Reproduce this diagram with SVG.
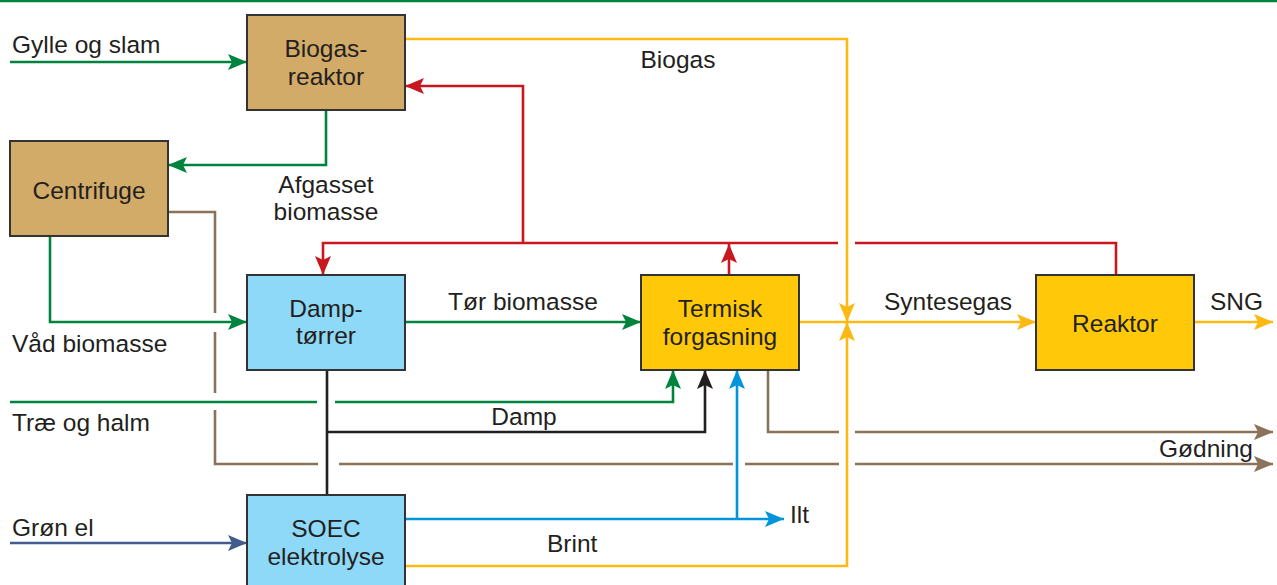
<svg xmlns="http://www.w3.org/2000/svg" width="1277" height="585" viewBox="0 0 1277 585">
<style>
text{font-family:"Liberation Sans",Arial,sans-serif;font-size:24.5px;fill:#231F20}
.c{text-anchor:middle}
.e{text-anchor:end}
.box{stroke:#333;stroke-width:2}
.tan{fill:#D3AB68}
.lb{fill:#8ED8F8}
.yl{fill:#FFC90A}
.ln{fill:none;stroke-width:2.6;stroke-linejoin:miter}
.g{stroke:#00843D}.r{stroke:#C8171F}.y{stroke:#FDB913}.b{stroke:#0095DA}.br{stroke:#8A735A}.k{stroke:#231F20}.db{stroke:#425C8F}
</style>
<defs>
<marker id="ag" markerUnits="userSpaceOnUse" markerWidth="24" markerHeight="20" viewBox="-20 -10 22 20" refX="0" refY="0" orient="auto"><path d="M0,0 L-19,-8 L-15,0 L-19,8 Z" fill="#00843D"/></marker>
<marker id="ar" markerUnits="userSpaceOnUse" markerWidth="24" markerHeight="20" viewBox="-20 -10 22 20" refX="0" refY="0" orient="auto"><path d="M0,0 L-19,-8 L-15,0 L-19,8 Z" fill="#C8171F"/></marker>
<marker id="ay" markerUnits="userSpaceOnUse" markerWidth="24" markerHeight="20" viewBox="-20 -10 22 20" refX="0" refY="0" orient="auto"><path d="M0,0 L-19,-8 L-15,0 L-19,8 Z" fill="#FDB913"/></marker>
<marker id="ab" markerUnits="userSpaceOnUse" markerWidth="24" markerHeight="20" viewBox="-20 -10 22 20" refX="0" refY="0" orient="auto"><path d="M0,0 L-19,-8 L-15,0 L-19,8 Z" fill="#0095DA"/></marker>
<marker id="abr" markerUnits="userSpaceOnUse" markerWidth="24" markerHeight="20" viewBox="-20 -10 22 20" refX="0" refY="0" orient="auto"><path d="M0,0 L-19,-8 L-15,0 L-19,8 Z" fill="#8A735A"/></marker>
<marker id="ak" markerUnits="userSpaceOnUse" markerWidth="24" markerHeight="20" viewBox="-20 -10 22 20" refX="0" refY="0" orient="auto"><path d="M0,0 L-19,-8 L-15,0 L-19,8 Z" fill="#231F20"/></marker>
<marker id="adb" markerUnits="userSpaceOnUse" markerWidth="24" markerHeight="20" viewBox="-20 -10 22 20" refX="0" refY="0" orient="auto"><path d="M0,0 L-19,-8 L-15,0 L-19,8 Z" fill="#425C8F"/></marker>
</defs>
<rect width="1277" height="585" fill="#fff"/>
<line x1="0" y1="1" x2="1277" y2="1" stroke="#00843D" stroke-width="2.5"/>

<g id="connectors">
<!-- green -->
<path class="ln g" d="M10,62 H247" marker-end="url(#ag)"/>
<path class="ln g" d="M326,110 V165 H168" marker-end="url(#ag)"/>
<path class="ln g" d="M50,236 V322 H247" marker-end="url(#ag)"/>
<path class="ln g" d="M405,322 H641" marker-end="url(#ag)"/>
<path class="ln g" d="M10,402 H317"/>
<path class="ln g" d="M335,402 H673 V370" marker-end="url(#ag)"/>
<!-- black -->
<path class="ln k" d="M327,370 V495"/>
<path class="ln k" d="M327,432 H705 V370" marker-end="url(#ak)"/>
<!-- blue -->
<path class="ln b" d="M405,519 H784" marker-end="url(#ab)"/>
<path class="ln b" d="M737,519 V370" marker-end="url(#ab)"/>
<!-- dark blue -->
<path class="ln db" d="M10,543 H247" marker-end="url(#adb)"/>
<!-- red -->
<path class="ln r" d="M1116,275 V243 H855"/>
<path class="ln r" d="M838,243 H323 V275" marker-end="url(#ar)"/>
<path class="ln r" d="M523,243 V86 H405" marker-end="url(#ar)"/>
<path class="ln r" d="M729,275 V244" marker-end="url(#ar)"/>
<!-- brown -->
<path class="ln br" d="M168,212 H215 V313 M215,332 V393 M215,410 V464 H318 M339,464 H733 M745,464 H839"/>
<path class="ln br" d="M855,464 H1273" marker-end="url(#abr)"/>
<path class="ln br" d="M768,370 V432 H839"/>
<path class="ln br" d="M855,432 H1273" marker-end="url(#abr)"/>
<!-- yellow -->
<path class="ln y" d="M405,39 H847 V322" marker-end="url(#ay)"/>
<path class="ln y" d="M405,566 H847 V322" marker-end="url(#ay)"/>
<path class="ln y" d="M799,322 H1036" marker-end="url(#ay)"/>
<path class="ln y" d="M1195,322 H1273" marker-end="url(#ay)"/>
</g>

<g id="biogasreaktor">
<rect class="box tan" x="247" y="15" width="158" height="95"/>
<text class="c" x="326" y="57">Biogas-</text>
<text class="c" x="326" y="85">reaktor</text>
</g>
<g id="centrifuge">
<rect class="box tan" x="10" y="141" width="158" height="95"/>
<text class="c" x="89" y="199">Centrifuge</text>
</g>
<g id="damptorrer">
<rect class="box lb" x="247" y="275" width="158" height="95"/>
<text class="c" x="326" y="317">Damp-</text>
<text class="c" x="326" y="344">tørrer</text>
</g>
<g id="termisk">
<rect class="box yl" x="641" y="275" width="158" height="95"/>
<text class="c" x="720" y="317">Termisk</text>
<text class="c" x="720" y="345">forgasning</text>
</g>
<g id="reaktor">
<rect class="box yl" x="1036" y="275" width="158" height="95"/>
<text class="c" x="1115" y="332">Reaktor</text>
</g>
<g id="soec">
<rect class="box lb" x="247" y="495" width="158" height="100"/>
<text class="c" x="326" y="537">SOEC</text>
<text class="c" x="326" y="565">elektrolyse</text>
</g>

<g id="labels">
<text x="12" y="53">Gylle og slam</text>
<text class="c" x="326" y="193">Afgasset</text>
<text class="c" x="326" y="220">biomasse</text>
<text class="c" x="678" y="68">Biogas</text>
<text x="12" y="352">Våd biomasse</text>
<text x="12" y="431">Træ og halm</text>
<text x="12" y="536">Grøn el</text>
<text x="448" y="310">Tør biomasse</text>
<text x="884" y="310">Syntesegas</text>
<text x="1210" y="310">SNG</text>
<text class="c" x="524" y="425">Damp</text>
<text class="e" x="1253" y="457">Gødning</text>
<text x="790" y="523">Ilt</text>
<text x="547" y="552">Brint</text>
</g>
</svg>
